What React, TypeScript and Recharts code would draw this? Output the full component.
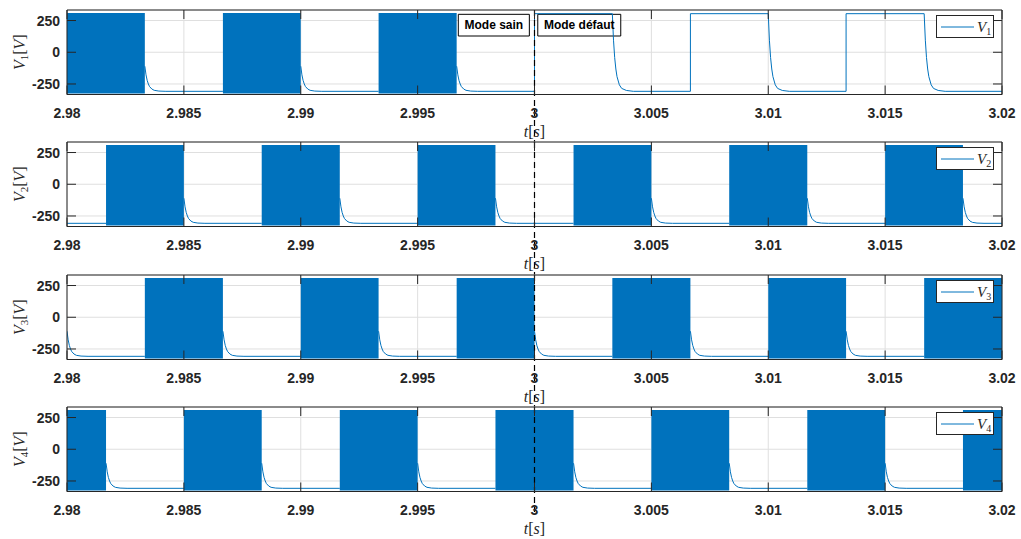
import React from 'react';
import {
  ComposedChart,
  Area,
  Line,
  XAxis,
  YAxis,
  CartesianGrid,
  ReferenceLine,
  ReferenceArea,
  Legend,
} from 'recharts';

// ---------- data ----------
const TICKS_X = [2.98, 2.985, 2.99, 2.995, 3, 3.005, 3.01, 3.015, 3.02];
const TICK_X_LABELS = ['2.98', '2.985', '2.99', '2.995', '3', '3.005', '3.01', '3.015', '3.02'];
const TICKS_Y = [-250, 0, 250];
const TICK_Y_LABELS = ['-250', '0', '250'];
const X_DOMAIN: [number, number] = [2.98, 3.02];
const Y_DOMAIN: [number, number] = [-333, 333];

const FAULT_T = 3;

// voltage levels
const LOW_LEVEL = -308;
const BLOCK_LO = -325;
const BLOCK_HI = 310;
const PULSE_HIGH = 304;

// decay tail after a switching block / after a plain high pulse
const TAIL_DT = [0, 0.00005, 0.0001, 0.00015, 0.0002, 0.0003, 0.0004, 0.0006, 0.0009];
const TAIL_FROM_PWM = [-110, -178, -222, -250, -270, -290, -300, -306, -308];
const TAIL_FROM_PULSE = [304, 95, -42, -132, -192, -257, -285, -301, -308];

// switching (PWM) blocks [start, end] per phase
const V1_PWM = [[2.98, 2.98333], [2.98667, 2.99], [2.99333, 2.99667]];
const V1_PULSES = [[3.0, 3.00333], [3.00667, 3.01], [3.01333, 3.01667]];
const V2_PWM = [[2.98167, 2.985], [2.98833, 2.99167], [2.995, 2.99833], [3.00167, 3.005], [3.00833, 3.01167], [3.015, 3.01833]];
const V2_PULSES: number[][] = [];
const V3_PWM = [[2.97667, 2.98], [2.98333, 2.98667], [2.99, 2.99333], [2.99667, 3.0], [3.00333, 3.00667], [3.01, 3.01333], [3.01667, 3.02]];
const V3_PULSES: number[][] = [];
const V4_PWM = [[2.98, 2.98167], [2.985, 2.98833], [2.99167, 2.995], [2.99833, 3.00167], [3.005, 3.00833], [3.01167, 3.015], [3.01833, 3.02]];
const V4_PULSES: number[][] = [];

const ANNOTATIONS = [
  { label: 'Mode sain', x1: 2.99674, x2: 2.99978, y1: 128, y2: 299 },
  { label: 'Mode défaut', x1: 3.00014, x2: 3.00369, y1: 128, y2: 299 },
];

// ---------- styling / layout ----------
const BLUE = '#0072BD';
const INK = '#262626';
const GRID_C = '#dfdfdf';
const SANS = '"Liberation Sans", Arial, Helvetica, sans-serif';
const SERIF = '"Liberation Serif", "Times New Roman", serif';

const CHART_W = 1021;
const CHART_H = 150;
const PLOT_TOP = 10;
const PLOT_H = 84.5;
const LEFT_W = 67;
const RIGHT_GAP = 19;
const CHART_TOPS = [0, 132, 265, 396.5];
const DASH_ENDS = [-715, -720, -715, -495];

type Pt = { t: number; v: number | null; band: [number, number] | null };

function buildSeries(pwm: number[][], pulses: number[][]): Pt[] {
  const segs = [
    ...pwm.map(([s, e]) => ({ s, e, pwm: true })),
    ...pulses.map(([s, e]) => ({ s, e, pwm: false })),
  ].sort((a, b) => a.s - b.s);
  const pts: Pt[] = [];
  let lastT = -Infinity;
  if (segs.length === 0 || segs[0].s > X_DOMAIN[0]) {
    pts.push({ t: X_DOMAIN[0], v: LOW_LEVEL, band: null });
    lastT = X_DOMAIN[0];
  }
  for (const g of segs) {
    if (g.s > lastT) pts.push({ t: g.s, v: LOW_LEVEL, band: null });
    if (g.pwm) {
      pts.push({ t: g.s, v: null, band: [BLOCK_LO, BLOCK_HI] });
      pts.push({ t: g.e, v: null, band: [BLOCK_LO, BLOCK_HI] });
    } else {
      pts.push({ t: g.s, v: PULSE_HIGH, band: null });
      pts.push({ t: g.e, v: PULSE_HIGH, band: null });
    }
    const tail = g.pwm ? TAIL_FROM_PWM : TAIL_FROM_PULSE;
    TAIL_DT.forEach((dt, i) => pts.push({ t: g.e + dt, v: tail[i], band: null }));
    lastT = g.e + TAIL_DT[TAIL_DT.length - 1];
  }
  if (lastT < X_DOMAIN[1]) pts.push({ t: X_DOMAIN[1], v: LOW_LEVEL, band: null });
  return pts;
}

const PANELS = [
  { n: '1', data: buildSeries(V1_PWM, V1_PULSES), notes: true },
  { n: '2', data: buildSeries(V2_PWM, V2_PULSES), notes: false },
  { n: '3', data: buildSeries(V3_PWM, V3_PULSES), notes: false },
  { n: '4', data: buildSeries(V4_PWM, V4_PULSES), notes: false },
];

const findLabel = (vals: number[], labels: string[], v: number) => {
  const i = vals.findIndex((x) => Math.abs(x - v) < 1e-9);
  return i >= 0 ? labels[i] : String(v);
};

const XTick = (p: any) => (
  <text x={p.x} y={p.y + 23} textAnchor="middle" fontFamily={SANS} fontWeight="bold" fontSize={14} fill={INK}>
    {findLabel(TICKS_X, TICK_X_LABELS, p.payload.value)}
  </text>
);

const YTick = (p: any) => (
  <text x={p.x - 7} y={p.y + 5} textAnchor="end" fontFamily={SANS} fontWeight="bold" fontSize={14} fill={INK}>
    {findLabel(TICKS_Y, TICK_Y_LABELS, p.payload.value)}
  </text>
);

const NoTick = () => <g />;

const YLabel = (props: any, n: string) => {
  const vb = props.viewBox || { x: 0, y: PLOT_TOP, width: LEFT_W, height: PLOT_H };
  const cx = vb.x + 25;
  const cy = vb.y + vb.height / 2;
  return (
    <text x={cx} y={cy} transform={`rotate(-90 ${cx} ${cy})`} textAnchor="middle" fontFamily={SERIF} fontSize={16} fill={INK}>
      <tspan fontStyle="italic">V</tspan>
      <tspan fontSize={11} dy={3}>{n}</tspan>
      <tspan dy={-3}>[</tspan>
      <tspan fontStyle="italic">V</tspan>
      <tspan>]</tspan>
    </text>
  );
};

const XLabel = (props: any) => {
  const vb = props.viewBox || { x: LEFT_W, y: PLOT_TOP + PLOT_H, width: CHART_W - LEFT_W - RIGHT_GAP, height: 50 };
  const cx = vb.x + vb.width / 2;
  const cy = vb.y + 42;
  return (
    <text x={cx} y={cy} textAnchor="middle" fontFamily={SERIF} fontSize={16} fill={INK}>
      <tspan fontStyle="italic">t</tspan>
      <tspan>[</tspan>
      <tspan fontStyle="italic">s</tspan>
      <tspan>]</tspan>
    </text>
  );
};

const LegendBox = ({ n }: { n: string }) => (
  <div style={{ width: 56, height: 21, border: `1px solid ${INK}`, background: '#fff' }}>
    <svg width={56} height={21} style={{ display: 'block' }}>
      <line x1={4} x2={37} y1={11} y2={11} stroke={BLUE} strokeWidth={1} />
      <text x={40} y={16} fontFamily={SERIF} fontSize={15} fill={INK}>
        <tspan fontStyle="italic">V</tspan>
        <tspan fontSize={10} dy={3}>{n}</tspan>
      </text>
    </svg>
  </div>
);

function Panel({ n, data, notes, dashEnd }: { n: string; data: Pt[]; notes: boolean; dashEnd: number }) {
  return (
    <ComposedChart
      width={CHART_W}
      height={CHART_H}
      data={data}
      margin={{ top: PLOT_TOP - 1, right: RIGHT_GAP - 1, bottom: 0, left: 0 }}
    >
      <CartesianGrid xAxisId="b" yAxisId="l" stroke={GRID_C} strokeWidth={1} />
      <XAxis
        xAxisId="b"
        orientation="bottom"
        type="number"
        dataKey="t"
        domain={X_DOMAIN}
        allowDataOverflow
        ticks={TICKS_X}
        interval={0}
        height={CHART_H - PLOT_TOP - PLOT_H}
        tickSize={-9}
        tickMargin={9}
        tick={XTick}
        tickLine={{ stroke: INK }}
        axisLine={{ stroke: INK }}
        label={XLabel}
      />
      <XAxis
        xAxisId="t"
        orientation="top"
        type="number"
        dataKey="t"
        domain={X_DOMAIN}
        allowDataOverflow
        ticks={TICKS_X}
        interval={0}
        height={1}
        tickSize={-9}
        tickMargin={0}
        tick={NoTick}
        tickLine={{ stroke: INK }}
        axisLine={{ stroke: INK }}
      />
      <YAxis
        yAxisId="l"
        orientation="left"
        type="number"
        domain={Y_DOMAIN}
        allowDataOverflow
        ticks={TICKS_Y}
        interval={0}
        width={LEFT_W}
        tickSize={-9}
        tickMargin={9}
        tick={YTick}
        tickLine={{ stroke: INK }}
        axisLine={{ stroke: INK }}
        label={(p: any) => YLabel(p, n)}
      />
      <YAxis
        yAxisId="r"
        orientation="right"
        type="number"
        domain={Y_DOMAIN}
        allowDataOverflow
        ticks={TICKS_Y}
        interval={0}
        width={1}
        tickSize={-9}
        tickMargin={0}
        tick={NoTick}
        tickLine={{ stroke: INK }}
        axisLine={{ stroke: INK }}
      />
      {notes &&
        ANNOTATIONS.map((a) => (
          <ReferenceArea
            key={a.label}
            xAxisId="b"
            yAxisId="l"
            x1={a.x1}
            x2={a.x2}
            y1={a.y1}
            y2={a.y2}
            fill="#ffffff"
            fillOpacity={1}
            stroke="#000"
            strokeWidth={1}
            ifOverflow="visible"
            label={{
              value: a.label,
              position: 'center',
              fill: '#000',
              fontSize: 12,
              fontWeight: 'bold',
              fontFamily: SANS,
            }}
          />
        ))}
      <Area
        xAxisId="b"
        yAxisId="l"
        type="linear"
        dataKey="band"
        stroke="none"
        fill={BLUE}
        fillOpacity={1}
        connectNulls={false}
        isAnimationActive={false}
        legendType="none"
        activeDot={false}
      />
      <Line
        xAxisId="b"
        yAxisId="l"
        type="linear"
        dataKey="v"
        name={`V${n}`}
        stroke={BLUE}
        strokeWidth={1}
        dot={false}
        activeDot={false}
        connectNulls={false}
        isAnimationActive={false}
      />
      <ReferenceLine
        xAxisId="b"
        yAxisId="l"
        segment={[{ x: FAULT_T, y: Y_DOMAIN[1] }, { x: FAULT_T, y: dashEnd }]}
        stroke="#000"
        strokeWidth={1.2}
        strokeDasharray="6 4"
        ifOverflow="visible"
      />
      <Legend
        verticalAlign="middle"
        align="center"
        layout="horizontal"
        wrapperStyle={{ left: 935.5, top: PLOT_TOP + 5, width: 58, height: 23 }}
        content={() => <LegendBox n={n} />}
      />
    </ComposedChart>
  );
}

export default function App() {
  return (
    <div style={{ position: 'absolute', left: 0, top: 0, width: 1021, height: 539, overflow: 'hidden', background: '#fff' }}>
      {PANELS.map((p, i) => (
        <div key={p.n} style={{ position: 'absolute', left: 0, top: CHART_TOPS[i] }}>
          <Panel n={p.n} data={p.data} notes={p.notes} dashEnd={DASH_ENDS[i]} />
        </div>
      ))}
    </div>
  );
}
